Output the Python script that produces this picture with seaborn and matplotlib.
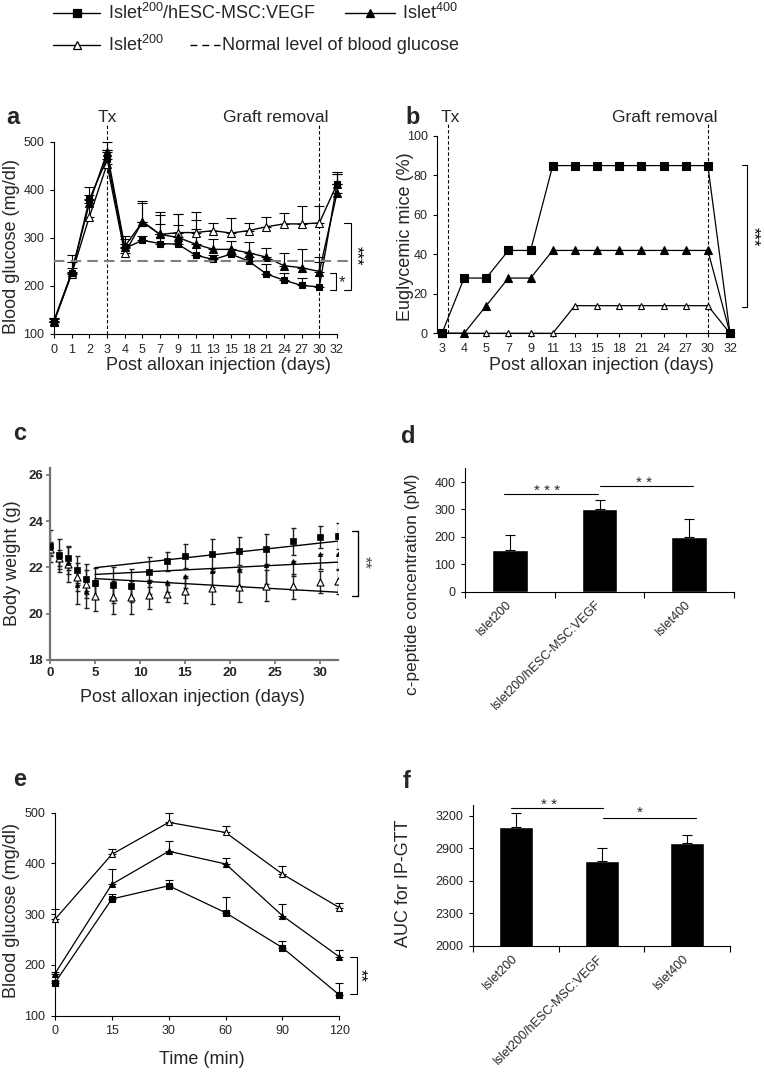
import numpy as np
import matplotlib
matplotlib.use("Agg")
import matplotlib.pyplot as plt
from matplotlib.lines import Line2D
import seaborn as sns

W, H = 764, 1077

# a - blood glucose after alloxan (mg/dl)
days_a = ["0", "1", "2", "3", "4", "5", "7", "9", "11", "13", "15", "18", "21", "24", "27", "30", "32"]
bg_vegf = [126, 227, 380, 465, 278, 295, 288, 287, 264, 255, 266, 252, 225, 212, 201, 198, 413]
bg_vegf_err = [5, 10, 26, 18, 10, 8, 40, 40, 54, 10, 10, 8, 20, 15, 15, 52, 20]
bg_i400 = [128, 228, 372, 478, 282, 333, 307, 301, 287, 276, 276, 269, 260, 242, 238, 230, 393]
bg_i400_err = [5, 22, 17, 22, 15, 40, 40, 48, 50, 21, 17, 23, 18, 26, 39, 31, 40]
bg_i200 = [125, 225, 344, 453, 268, 334, 307, 311, 311, 315, 310, 315, 323, 329, 329, 331, 412]
bg_i200_err = [8, 40, 35, 30, 35, 43, 47, 39, 43, 16, 32, 15, 20, 22, 38, 35, 25]
normal_bg = 252

# b - euglycemic mice (%)
days_b = ["3", "4", "5", "7", "9", "11", "13", "15", "18", "21", "24", "27", "30", "32"]
eug_vegf = [0, 28, 28, 42, 42, 85, 85, 85, 85, 85, 85, 85, 85, 0]
eug_i400 = [0, 0, 14, 28, 28, 42, 42, 42, 42, 42, 42, 42, 42, 0]
eug_i200 = [0, 0, 0, 0, 0, 0, 14, 14, 14, 14, 14, 14, 14, 0]

# c - body weight (g)
days_c = [0, 1, 2, 3, 4, 5, 7, 9, 11, 13, 15, 18, 21, 24, 27, 30, 32]
bw_vegf = [22.93, 22.52, 22.39, 21.91, 21.52, 21.33, 21.26, 21.22, 21.80, 22.26, 22.48, 22.60, 22.71, 22.81, 23.13, 23.32, 23.35]
bw_vegf_err = [0.68, 0.70, 0.48, 0.60, 0.65, 0.63, 0.78, 0.72, 0.65, 0.42, 0.52, 0.65, 0.62, 0.64, 0.57, 0.48, 0.56]
bw_i400 = [22.85, 22.45, 22.20, 21.26, 21.00, 21.30, 21.35, 21.30, 21.40, 21.38, 21.65, 21.84, 21.94, 22.09, 22.30, 22.57, 22.57]
bw_i400_err = [0.30, 0.50, 0.50, 0.83, 0.75, 0.60, 0.65, 0.60, 0.55, 0.45, 0.55, 0.70, 0.75, 0.80, 0.68, 0.62, 0.70]
bw_i200 = [22.80, 22.40, 22.16, 21.60, 21.29, 20.78, 20.71, 20.71, 20.83, 20.87, 21.00, 21.12, 21.15, 21.22, 21.19, 21.38, 21.40]
bw_i200_err = [0.30, 0.35, 0.78, 0.60, 0.60, 0.68, 0.71, 0.71, 0.63, 0.38, 0.55, 0.70, 0.66, 0.66, 0.54, 0.48, 0.54]
trend_days = [5, 32]
trend_vegf = [21.99, 23.14]
trend_i400 = [21.70, 22.23]
trend_i200 = [21.52, 20.93]

# d - c-peptide (pM)
groups = ["Islet200", "Islet200/hESC-MSC:VEGF", "Islet400"]
cpep = [153, 301, 200]
cpep_err = [54, 34, 64]

# e - IP-GTT blood glucose (mg/dl)
times_e = ["0", "15", "30", "60", "90", "120"]
gtt_vegf = [165, 330, 356, 303, 234, 141]
gtt_vegf_err = [4, 10, 11, 30, 14, 23]
gtt_i400 = [183, 359, 424, 399, 297, 216]
gtt_i400_err = [4, 31, 20, 12, 24, 14]
gtt_i200 = [290, 418, 481, 461, 379, 313]
gtt_i200_err = [20, 10, 18, 13, 16, 9]

# f - AUC for IP-GTT
auc = [3093, 2782, 2950]
auc_err = [137, 123, 70]

sns.set_theme(style="ticks")
plt.rcParams["font.family"] = ["Liberation Sans", "DejaVu Sans"]
plt.rcParams["mathtext.default"] = "regular"

fig = plt.figure(figsize=(W / 100, H / 100), dpi=100)


def add_ax(l, t, r, b):
    ax = fig.add_axes([l / W, 1 - b / H, (r - l) / W, (b - t) / H])
    sns.despine(ax=ax)
    for s in ["left", "bottom"]:
        ax.spines[s].set_linewidth(0.8)
        ax.spines[s].set_color("black")
    ax.tick_params(length=3, width=0.8, labelsize=9, pad=4, color="black")
    return ax


def ftext(x, y, s, **kw):
    kw.setdefault("ha", "center")
    kw.setdefault("va", "center")
    fig.text(x / W, 1 - y / H, s, **kw)


def series(ax, x, y, err, marker, mfc, ms, lw=1.0, cap=3.5):
    if err is not None:
        ax.errorbar(x, y, yerr=[np.zeros(len(err)), err], fmt="none", ecolor="black",
                    elinewidth=0.8, capsize=cap, capthick=0.8, zorder=2, clip_on=False)
    sns.lineplot(x=x, y=y, ax=ax, color="black", lw=lw, marker=marker, markersize=ms,
                 markerfacecolor=mfc, markeredgecolor="black", markeredgewidth=0.8,
                 clip_on=False, zorder=3)


def bracket(ax, x_arm, x_bar, y0, y1, lw=0.8, color="black"):
    ax.plot([x_arm, x_bar, x_bar, x_arm], [y0, y0, y1, y1], color=color, lw=lw, clip_on=False)


def stars_v(ax, x, y, s, color="black"):
    ax.text(x, y, s, fontsize=12, rotation=270, ha="center", va="center", color=color)


# ---- a
axa = add_ax(54, 141.7, 337, 334)
xa = np.arange(len(days_a))
series(axa, xa, bg_i200, bg_i200_err, "^", "white", 5.2)
series(axa, xa, bg_i400, bg_i400_err, "^", "black", 5.2)
series(axa, xa, bg_vegf, bg_vegf_err, "s", "black", 4.5)
axa.axhline(normal_bg, xmax=1.04, color="#7f7f7f", lw=1.5, ls=(0, (5, 3)), clip_on=False, zorder=4)
for d in ["3", "30"]:
    axa.axvline(days_a.index(d), ymax=1.09, color="black", lw=0.8, ls=(0, (3, 2)), clip_on=False)
axa.set_xticks(xa, days_a)
axa.set_yticks([100, 200, 300, 400, 500])
axa.set_xlim(0, 16)
axa.set_ylim(100, 500)
bracket(axa, 15.6, 15.94, 226, 192)
axa.text(16.3, 206, "*", fontsize=12, ha="center", va="center")
bracket(axa, 16.42, 16.79, 331, 192)
stars_v(axa, 17.07, 262, "***")
ftext(13, 118, "a", fontsize=17, fontweight="bold")
ftext(107, 117, "Tx", fontsize=12.5)
ftext(276, 117, "Graft removal", fontsize=12.5)
ftext(218, 365, "Post alloxan injection (days)", fontsize=13)
ftext(12, 247, "Blood glucose (mg/dl)", fontsize=13, rotation=90)

# ---- b
axb = add_ax(437.3, 136, 730, 333.3)
xb = np.arange(len(days_b))
series(axb, xb, eug_i200, None, "^", "white", 5.0, lw=0.9)
series(axb, xb, eug_i400, None, "^", "black", 5.5, lw=0.9)
series(axb, xb, eug_vegf, None, "s", "black", 5.3, lw=0.9)
axb.axvline(0.29, ymax=1.066, color="black", lw=0.8, ls=(0, (3, 2)), clip_on=False)
axb.axvline(days_b.index("30"), ymax=1.066, color="black", lw=0.8, ls=(0, (3, 2)), clip_on=False)
axb.set_xticks(xb, days_b)
axb.set_yticks(range(0, 101, 20))
axb.set_xlim(-0.21, 13)
axb.set_ylim(0, 100)
bracket(axb, 13.53, 13.76, 85.3, 13.5)
stars_v(axb, 14.05, 49, "***")
ftext(413, 117, "b", fontsize=17, fontweight="bold")
ftext(450.5, 117, "Tx", fontsize=12.5)
ftext(664.5, 117, "Graft removal", fontsize=12.5)
ftext(601, 365, "Post alloxan injection (days)", fontsize=13)
ftext(405, 237, "Euglycemic mice (%)", fontsize=13, rotation=90)

# ---- c
axc = add_ax(50, 468, 338, 660)
for s in ["left", "bottom"]:
    axc.spines[s].set_linewidth(1.6)
    axc.spines[s].set_color("#737373")
axc.tick_params(color="#737373", width=1.2, length=3, pad=2)
for yv, ev, lower_only in [(bw_i200, bw_i200_err, False), (bw_vegf, bw_vegf_err, False),
                           (bw_i400, bw_i400_err, True)]:
    up = np.zeros(len(ev)) if lower_only else ev
    axc.errorbar(days_c, yv, yerr=[ev, up], fmt="none", ecolor="#202020",
                 elinewidth=1.0, capsize=1.8, capthick=1.0, zorder=2)
for ty in [trend_vegf, trend_i400, trend_i200]:
    sns.lineplot(x=trend_days, y=ty, ax=axc, color="black", lw=1.0, zorder=3)
sns.scatterplot(x=days_c, y=bw_i200, ax=axc, marker="^", s=26, color="white",
                edgecolor="black", linewidth=0.8, zorder=4)
sns.scatterplot(x=days_c, y=bw_vegf, ax=axc, marker="s", s=20, color="black",
                edgecolor="black", linewidth=0.5, zorder=4)
sns.scatterplot(x=days_c, y=bw_i400, ax=axc, marker="^", s=9, color="black",
                edgecolor="black", linewidth=0.5, zorder=4)
axc.set_xticks(range(0, 31, 5))
axc.set_yticks(range(18, 27, 2))
axc.set_xlim(0, 32)
axc.set_ylim(18, 26.3)
for lab in axc.get_xticklabels() + axc.get_yticklabels():
    lab.set_fontweight("bold")
    lab.set_fontsize(9.5)
bracket(axc, 33.5, 34.2, 23.58, 20.78, lw=1.0)
stars_v(axc, 34.9, 22.2, "**", color="#444444")
ftext(20, 433, "c", fontsize=17, fontweight="bold")
ftext(192.5, 698, "Post alloxan injection (days)", fontsize=13)
ftext(13, 563, "Body weight (g)", fontsize=13, rotation=90)


def bar_panel(ax, vals, errs):
    sns.barplot(x=groups, y=vals, ax=ax, color="black", width=0.4, errorbar=None,
                saturation=1, zorder=2)
    ax.errorbar(np.arange(len(vals)), vals, yerr=[np.zeros(len(errs)), errs], fmt="none",
                ecolor="black", elinewidth=0.8, capsize=3.6, capthick=0.8, zorder=3)
    ax.set_xlim(-0.5, 2.5)
    ax.set_xticks(range(len(groups)))
    ax.set_xticklabels(groups, rotation=45, ha="right", va="center", rotation_mode="anchor",
                       fontsize=9)
    ax.tick_params(axis="x", which="major", length=0, pad=8)
    ax.set_xticks([-0.5, 0.5, 1.5, 2.5], minor=True)
    ax.tick_params(axis="x", which="minor", length=4, width=0.8, color="black", bottom=True)


# ---- d
axd = add_ax(465, 468.3, 734, 591.7)
bar_panel(axd, cpep, cpep_err)
axd.set_ylim(0, 450)
axd.set_yticks(range(0, 401, 100))
axd.plot([-0.06, 0.98], [358, 358], color="black", lw=0.8, clip_on=False)
axd.text(0.42, 368, "* * *", fontsize=11, ha="center", va="center")
axd.plot([1.0, 2.04], [385, 385], color="black", lw=0.8, clip_on=False)
axd.text(1.5, 396, "* *", fontsize=11, ha="center", va="center")
ftext(408, 437, "d", fontsize=17, fontweight="bold")
ftext(413, 584, "c-peptide concentration (pM)", fontsize=12.5, rotation=90)

# ---- e
axe = add_ax(55, 812.7, 339.3, 1015.7)
xe = np.arange(len(times_e))
series(axe, xe, gtt_i200, gtt_i200_err, "^", "white", 5.0, lw=0.9, cap=3.2)
series(axe, xe, gtt_i400, gtt_i400_err, "^", "black", 5.0, lw=0.9, cap=3.2)
series(axe, xe, gtt_vegf, gtt_vegf_err, "s", "black", 4.0, lw=0.9, cap=3.2)
axe.set_xticks(xe, times_e)
axe.set_yticks(range(100, 501, 100))
axe.set_xlim(0, 5)
axe.set_ylim(100, 500)
bracket(axe, 5.19, 5.306, 216, 143)
stars_v(axe, 5.36, 179, "**")
ftext(20, 780, "e", fontsize=17, fontweight="bold")
ftext(202, 1060, "Time (min)", fontsize=13)
ftext(12, 910, "Blood glucose (mg/dl)", fontsize=13, rotation=90)

# ---- f
axf = add_ax(473.3, 805, 730, 946)
bar_panel(axf, auc, auc_err)
axf.set_ylim(2000, 3300)
axf.set_yticks(range(2000, 3201, 300))
axf.plot([-0.06, 1.02], [3276, 3276], color="black", lw=0.8, clip_on=False)
axf.text(0.39, 3301, "* *", fontsize=11, ha="center", va="center")
axf.plot([1.02, 2.1], [3184, 3184], color="black", lw=0.8, clip_on=False)
axf.text(1.45, 3228, "*", fontsize=11, ha="center", va="center")
ftext(407, 782, "f", fontsize=17, fontweight="bold")
ftext(403, 883, "AUC for IP-GTT", fontsize=13, rotation=90)


# ---- legend at top
def legend_entry(x0, x1, y, marker, mfc, ms, text_x, label, ls="-"):
    yy = 1 - y / H
    fig.add_artist(Line2D([x0 / W, x1 / W], [yy, yy], color="black", lw=1.0, ls=ls,
                          transform=fig.transFigure))
    if marker:
        fig.add_artist(Line2D([(x0 + x1) / 2 / W], [yy], marker=marker, ms=ms, mfc=mfc,
                              mec="black", mew=0.9, transform=fig.transFigure))
    ftext(text_x, y, label, fontsize=13, ha="left")


legend_entry(53, 100, 13, "s", "black", 5.5, 108, "Islet$^{200}$/hESC-MSC:VEGF")
legend_entry(345, 395, 13, "^", "black", 6, 402, "Islet$^{400}$")
legend_entry(53, 100, 45, "^", "white", 6, 108, "Islet$^{200}$")
legend_entry(190, 220, 45, None, None, 0, 222, "Normal level of blood glucose", ls=(0, (5, 3.5)))

fig.savefig("out.png", dpi=100)
